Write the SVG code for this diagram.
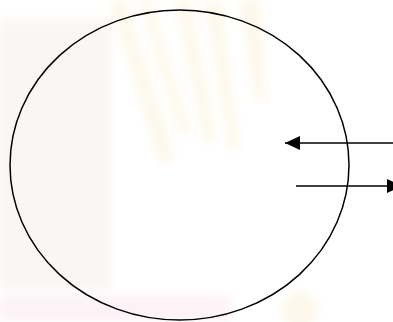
<svg xmlns="http://www.w3.org/2000/svg" width="393" height="322" viewBox="0 0 393 322">
  <defs>
    <style>
      .line { stroke: #000; stroke-width: 1.5; fill: none; }
      .wm-y { fill: #fdf8ea; }
      .wm-g { fill: #f9f6f3; }
      .wm-p { fill: #fdf3f6; }
    </style>
    <marker id="head" viewBox="0 0 15 14" refX="15" refY="7" markerWidth="15" markerHeight="14" markerUnits="userSpaceOnUse" orient="auto">
      <path d="M0,0 L15,7 L0,14 Z" fill="#000"/>
    </marker>
    <filter id="blur"><feGaussianBlur stdDeviation="5"/></filter>
  </defs>
  <rect width="393" height="322" fill="#fff"/>
  <g id="watermark" filter="url(#blur)">
    <rect class="wm-g" x="0" y="20" width="110" height="270"/>
    <polygon class="wm-y" points="110,0 125,0 175,160 160,165"/>
    <polygon class="wm-y" points="140,0 150,0 190,130 180,135"/>
    <polygon class="wm-y" points="175,0 190,0 215,140 205,145"/>
    <polygon class="wm-y" points="205,0 220,0 240,150 230,150"/>
    <polygon class="wm-y" points="240,0 260,0 265,100 255,100"/>
    <polygon class="wm-p" points="0,295 230,295 230,322 0,322"/>
    <circle cx="300" cy="310" r="18" class="wm-y"/>
  </g>
  <g id="ellipse">
    <ellipse class="line" cx="179.5" cy="165" rx="169.5" ry="155"/>
  </g>
  <g id="connectors">
    <line class="line" x1="393" y1="143" x2="285" y2="143" marker-end="url(#head)"/>
    <line class="line" x1="296" y1="186" x2="402" y2="186" marker-end="url(#head)"/>
  </g>
</svg>
